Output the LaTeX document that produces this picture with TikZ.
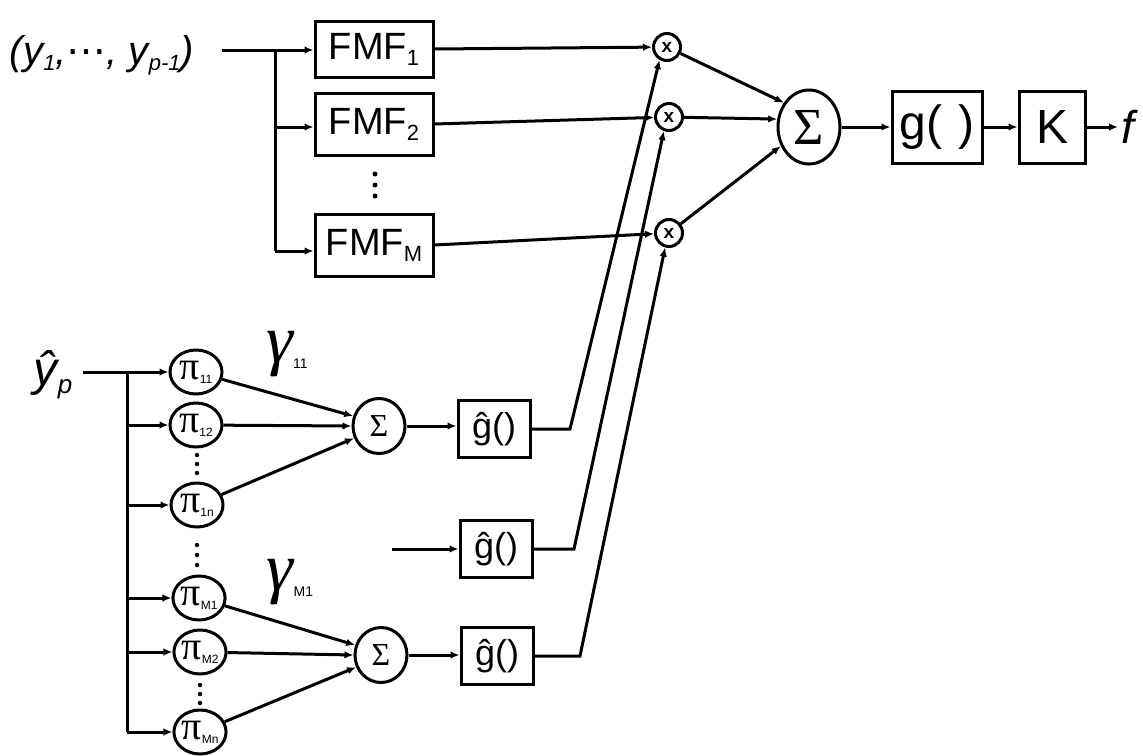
\documentclass[tikz,border=0pt]{standalone}
\usepackage{fontspec}
\setmainfont{Liberation Sans}
\newfontfamily\grkfont{Liberation Serif}
\newfontfamily\symfont{DejaVu Sans}
\usetikzlibrary{arrows.meta,shapes.geometric,calc}

% lowered small index set in a given size
\newcommand{\lowidx}[2]{\raisebox{-0.3ex}{\fontsize{#1}{#1}\selectfont #2}}
\newcommand{\pilabel}[1]{{\grkfont π}\raisebox{-4pt}{\fontsize{12}{12}\selectfont\rmfamily #1}}
\newcommand{\gamlabel}[1]{γ\raisebox{-6pt}{\fontsize{14}{14}\selectfont\rmfamily\upshape #1}}

\begin{document}
\begin{tikzpicture}[x=1pt,y=-1pt,line width=3pt,
  box/.style={draw,rectangle,inner sep=0pt},
  ring/.style={draw,ellipse,inner sep=0pt},
  arr/.style={-{Latex[length=9pt,width=7.5pt]}},
  dotmark/.style={circle,fill,inner sep=0pt,minimum size=#1},
  dotmark/.default=4.5pt,
  fmf/.style={box,minimum width=118pt,font=\fontsize{38}{38}\selectfont},
  pinode/.style={ring,minimum width=52pt,minimum height=44pt,font=\fontsize{40}{40}\selectfont},
  sumsmall/.style={ring,minimum width=52pt,minimum height=55pt,font=\fontsize{32}{32}\selectfont\grkfont},
  ghat/.style={box,minimum width=72pt,minimum height=57pt,font=\fontsize{36}{36}\selectfont},
  mult/.style={ring,minimum size=27pt,font=\fontsize{19}{19}\selectfont\bfseries},
  gam/.style={font=\fontsize{68}{68}\selectfont\grkfont\itshape},
]
\useasboundingbox (0,0) rectangle (1143,755);

% ---------- upper branch: known samples through the FMF bank ----------
\node[font=\fontsize{40}{40}\selectfont\itshape] (yin) at (102,55)
  {(y\lowidx{22}{1},{\symfont\upshape ⋯}, y\lowidx{22}{p-1})};
\coordinate (a0) at (222,50);
\coordinate (a1) at (275,50);
\coordinate (a2) at (275,127);
\coordinate (a3) at (275,251);

\node[fmf,minimum height=56pt] (F1) at (374,49) {FMF\lowidx{22}{1}};
\node[fmf,minimum height=62pt] (F2) at (374,124) {FMF\lowidx{22}{2}};
\node[fmf,minimum height=62pt] (FM) at (374,245) {FMF\lowidx{22}{M}};
\node[dotmark=5pt] (fd1) at (375,174) {};
\node[dotmark=5pt] (fd2) at (375,185) {};
\node[dotmark=5pt] (fd3) at (375,196) {};

\draw[arr] (a0) -- (a1 -| F1.west);
\draw (a1) -- (a3);
\draw[arr] (a2) -- (a2 -| F2.west);
\draw[arr] (a3) -- (a3 -| FM.west);

% multipliers
\node[mult] (m1) at (667,47) {x};
\node[mult] (m2) at (669,117) {x};
\node[mult] (m3) at (669,233) {x};
\draw[arr] (F1.east) -- (m1);
\draw[arr] (F2.east) -- (m2);
\draw[arr] (FM.east) -- (m3);

% output sum and chain
\node[ring,minimum width=62pt,minimum height=74pt,font=\fontsize{52}{52}\selectfont\grkfont] (S) at (809,127) {Σ};
\draw[arr] (m1) -- (S.136);
\draw[arr] (m2) -- (S.166);
\draw[arr] (m3) -- (S.214);

\node[box,minimum width=90pt,minimum height=72pt,font=\fontsize{48}{48}\selectfont] (G) at (937,127) {g(\,\,)};
\node[box,minimum width=66pt,minimum height=72pt,font=\fontsize{48}{48}\selectfont] (K) at (1052,127) {K};
\node[font=\fontsize{46}{46}\selectfont\itshape,anchor=west,inner sep=2pt] (f) at (1118,127) {f};
\draw[arr] (S) -- (G);
\draw[arr] (G) -- (K);
\draw[arr] (K) -- (f);

% ---------- lower branch: estimate of the new sample ----------
\node[font=\fontsize{48}{48}\selectfont\itshape] (yp) at (53,375) {ŷ\lowidx{26}{p}};
\coordinate (b0) at (83,372);
\coordinate (b1) at (127,372);

\node[pinode] (p11) at (196,372) {\pilabel{11}};
\node[pinode] (p12) at (196,425) {\pilabel{12}};
\node[pinode] (p1n) at (197,505) {\pilabel{1n}};
\node[pinode] (pM1) at (199,598) {\pilabel{M1}};
\node[pinode] (pM2) at (200,652) {\pilabel{M2}};
\node[pinode] (pMn) at (200,732) {\pilabel{Mn}};

\node[dotmark] (pd1) at (197,455) {};
\node[dotmark] (pd2) at (197,464) {};
\node[dotmark] (pd3) at (197,473) {};
\node[dotmark] (pd4) at (197,545) {};
\node[dotmark] (pd5) at (197,555) {};
\node[dotmark] (pd6) at (197,565) {};
\node[dotmark] (pd7) at (200,685) {};
\node[dotmark] (pd8) at (200,694) {};
\node[dotmark] (pd9) at (200,703) {};

\draw[arr] (b0) -- (p11);
\draw (b1) -- (b1 |- pMn);
\draw[arr] (b1 |- p12) -- (p12);
\draw[arr] (b1 |- p1n) -- (p1n);
\draw[arr] (b1 |- pM1) -- (pM1);
\draw[arr] (b1 |- pM2) -- (pM2);
\draw[arr] (b1 |- pMn) -- (pMn);

% weighted sums
\node[sumsmall] (s1) at (379,426) {Σ};
\node[sumsmall] (sM) at (381,655) {Σ};
\draw[arr] (p11) -- (s1.159);
\draw[arr] (p12) -- (s1.180);
\draw[arr] (p1n) -- (s1.206);
\draw[arr] (pM1) -- (sM.159);
\draw[arr] (pM2) -- (sM.180);
\draw[arr] (pMn) -- (sM.206);

\node[gam] (g11) at (287,354) {\gamlabel{11}};
\node[gam] (gM1) at (290,582) {\gamlabel{M1}};

% nonlinearities feeding the multipliers
\node[ghat] (h1) at (494,429) {ĝ()};
\node[ghat] (h2) at (496,549) {ĝ()};
\node[ghat] (h3) at (497,656) {ĝ()};
\coordinate (h2in) at (392,549);
\draw[arr] (s1.east) -- (s1.east -| h1.west);
\draw[arr] (h2in) -- (h2);
\draw[arr] (sM.east) -- (sM.east -| h3.west);

\coordinate (c1) at (570,429);
\coordinate (c2) at (574,549);
\coordinate (c3) at (580,656);
\draw[arr] (h1.east) -- (c1) -- (m1.240);
\draw[arr] (h2.east) -- (c2) -- (m2.250);
\draw[arr] (h3.east) -- (c3) -- (m3.255);
\end{tikzpicture}
\end{document}
